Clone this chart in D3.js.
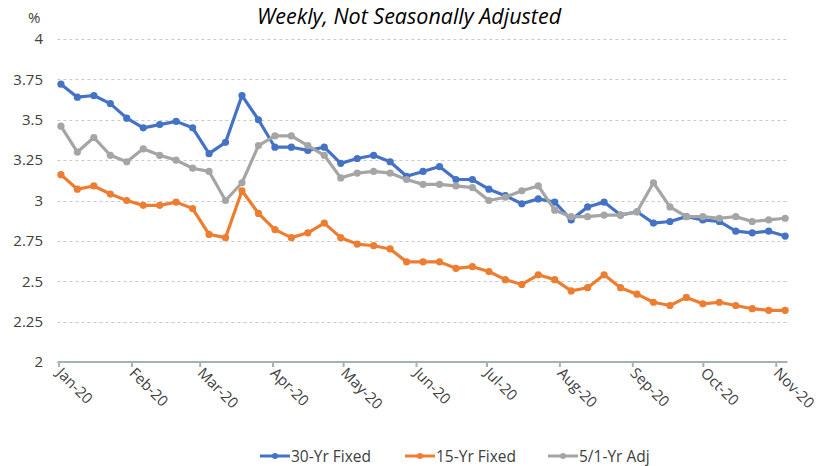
<!DOCTYPE html>
<html>
<head>
<meta charset="utf-8">
<script src="https://cdn.jsdelivr.net/npm/d3@7"></script>
<style>
  body { margin: 0; background: #fff; }
  svg { display: block; font-family: "Open Sans", "Noto Sans", sans-serif; }
</style>
</head>
<body>
<svg id="chart" width="830" height="466"></svg>
<script>
const dates = ["2020-01-02","2020-01-09","2020-01-16","2020-01-23","2020-01-30",
  "2020-02-06","2020-02-13","2020-02-20","2020-02-27",
  "2020-03-05","2020-03-12","2020-03-19","2020-03-26",
  "2020-04-02","2020-04-09","2020-04-16","2020-04-23","2020-04-30",
  "2020-05-07","2020-05-14","2020-05-21","2020-05-28",
  "2020-06-04","2020-06-11","2020-06-18","2020-06-25",
  "2020-07-02","2020-07-09","2020-07-16","2020-07-23","2020-07-30",
  "2020-08-06","2020-08-13","2020-08-20","2020-08-27",
  "2020-09-03","2020-09-10","2020-09-17","2020-09-24",
  "2020-10-01","2020-10-08","2020-10-15","2020-10-22","2020-10-29",
  "2020-11-05"];
const fixed30 = [3.72,3.64,3.65,3.60,3.51,3.45,3.47,3.49,3.45,3.29,3.36,3.65,3.50,
  3.33,3.33,3.31,3.33,3.23,3.26,3.28,3.24,3.15,3.18,3.21,3.13,3.13,
  3.07,3.03,2.98,3.01,2.99,2.88,2.96,2.99,2.91,2.93,2.86,2.87,2.90,
  2.88,2.87,2.81,2.80,2.81,2.78];
const fixed15 = [3.16,3.07,3.09,3.04,3.00,2.97,2.97,2.99,2.95,2.79,2.77,3.06,2.92,
  2.82,2.77,2.80,2.86,2.77,2.73,2.72,2.70,2.62,2.62,2.62,2.58,2.59,
  2.56,2.51,2.48,2.54,2.51,2.44,2.46,2.54,2.46,2.42,2.37,2.35,2.40,
  2.36,2.37,2.35,2.33,2.32,2.32];
const arm51 = [3.46,3.30,3.39,3.28,3.24,3.32,3.28,3.25,3.20,3.18,3.00,3.11,3.34,
  3.40,3.40,3.34,3.28,3.14,3.17,3.18,3.17,3.13,3.10,3.10,3.09,3.08,
  3.00,3.02,3.06,3.09,2.94,2.90,2.90,2.91,2.91,2.93,3.11,2.96,2.90,
  2.90,2.89,2.90,2.87,2.88,2.89];
const seriesNames = ["30-Yr Fixed","15-Yr Fixed","5/1-Yr Adj"];
const seriesColors = ["#4472C4","#ED7D31","#A5A5A5"];
const yTicks = [2,2.25,2.5,2.75,3,3.25,3.5,3.75,4];
const xTickDates = ["2020-01-01","2020-02-01","2020-03-01","2020-04-01","2020-05-01","2020-06-01",
  "2020-07-01","2020-08-01","2020-09-01","2020-10-01","2020-11-01"];
const titleText = "Weekly, Not Seasonally Adjusted";
const unitText = "%";

const svg = d3.select("#chart");
const parse = d3.utcParse("%Y-%m-%d");
const dts = dates.map(parse);
const series = [fixed30, fixed15, arm51];

const x = d3.scaleUtc()
  .domain([new Date(Date.UTC(2019,11,31,12)), new Date(Date.UTC(2020,10,6))])
  .range([57.4, 787.5]);
const y = d3.scaleLinear().domain([2,4]).range([362, 39]);

// gridlines
svg.append("g").selectAll("line")
  .data(yTicks.filter(v => v > 2))
  .join("line")
  .attr("x1", 57.4).attr("x2", 787.5)
  .attr("y1", d => Math.round(y(d)) + 0.5).attr("y2", d => Math.round(y(d)) + 0.5)
  .attr("stroke", "#c9c9c9").attr("stroke-width", 1)
  .attr("stroke-dasharray", "3,3");

// y axis labels
const yAxis = d3.axisLeft(y).tickValues(yTicks).tickFormat(d => String(d)).tickSize(0).tickPadding(0);
const gy = svg.append("g").attr("transform", "translate(43,0)").call(yAxis);
gy.select(".domain").remove();
gy.selectAll("text").attr("font-size", 15).attr("fill", "#404040")
  .attr("font-family", "'Open Sans', sans-serif");

// x axis
const xAxis = d3.axisBottom(x).tickValues(xTickDates.map(parse)).tickSize(5).tickFormat("");
const gx = svg.append("g").attr("transform", "translate(0,362)").call(xAxis);
gx.select(".domain").attr("stroke", "#a3b5ab").attr("stroke-width", 2.2)
  .attr("d", `M${x.range()[0]},0H${x.range()[1]}`);
gx.selectAll(".tick line").attr("stroke", "#a3b5ab").attr("stroke-width", 2).attr("y1", 0);

const fmt = d3.utcFormat("%b-%y");
svg.append("g").selectAll("text")
  .data(xTickDates.map(parse))
  .join("text")
  .attr("transform", d => `translate(${x(d) - 3},${374}) rotate(45)`)
  .attr("font-size", 15)
  .attr("fill", "#404040")
  .text(d => fmt(d));

// lines
const line = d3.line().x((d, i) => x(dts[i])).y(d => y(d));
series.forEach((s, k) => {
  const g = svg.append("g");
  g.append("path").datum(s).attr("d", line)
    .attr("fill", "none").attr("stroke", seriesColors[k]).attr("stroke-width", 3.2)
    .attr("stroke-linejoin", "round").attr("stroke-linecap", "round");
  g.selectAll("circle").data(s).join("circle")
    .attr("cx", (d, i) => x(dts[i])).attr("cy", d => y(d)).attr("r", 3.6)
    .attr("fill", seriesColors[k]);
});

// title & unit
svg.append("text").attr("x", 409).attr("y", 24).attr("text-anchor", "middle")
  .attr("font-size", 21.5).attr("font-style", "italic").attr("fill", "#000")
  .text(titleText);
svg.append("text").attr("x", 28).attr("y", 23).attr("font-size", 15).attr("fill", "#404040")
  .text(unitText);

// legend
const legendX = [260, 405, 548];
const lg = svg.append("g");
seriesNames.forEach((n, k) => {
  const g = lg.append("g").attr("transform", `translate(${legendX[k]},456)`);
  g.append("line").attr("x1", 0).attr("x2", 30).attr("y1", 0).attr("y2", 0)
    .attr("stroke", seriesColors[k]).attr("stroke-width", 3);
  g.append("circle").attr("cx", 15).attr("cy", 0).attr("r", 3).attr("fill", seriesColors[k]);
  g.append("text").attr("x", 31).attr("y", 6).attr("font-size", 15.5).attr("fill", "#404040").text(n);
});
</script>
</body>
</html>
